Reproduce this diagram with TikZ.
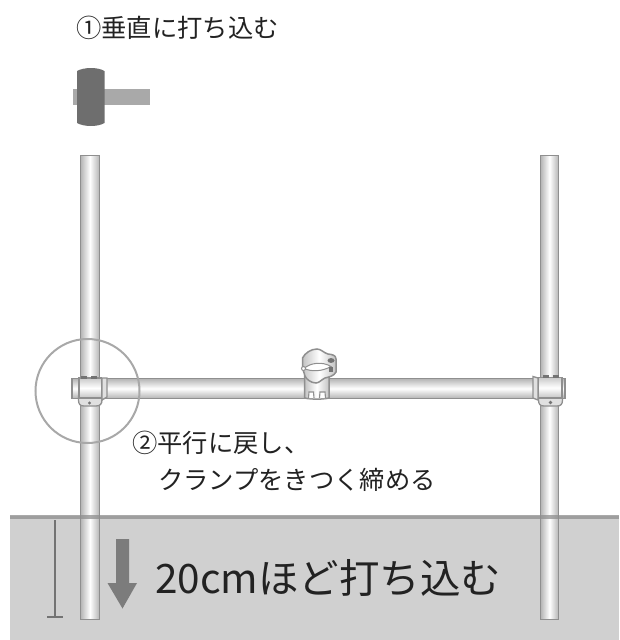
\documentclass[tikz,border=0pt]{standalone}
\usepackage{fontspec}
\setmainfont{Noto Sans CJK JP}
\usetikzlibrary{calc}
\definecolor{soil}{HTML}{D0D0D0}
\definecolor{soilline}{HTML}{8E8E8E}
\definecolor{pipeedge}{HTML}{8F8F8F}
\definecolor{pipedark}{HTML}{B4B4B4}
\definecolor{hammerhead}{HTML}{6E6E6E}
\definecolor{hammerhandle}{HTML}{A9A9A9}
\definecolor{arrowgrey}{HTML}{7C7C7C}
\definecolor{ringgrey}{HTML}{A8A8A8}
\definecolor{txt}{HTML}{222222}
\tikzset{
  vpipe/.style={draw=pipeedge,line width=1.7pt,left color=pipedark,right color=pipedark,middle color=white},
  hpipe/.style={draw=pipeedge,line width=1.7pt,top color=pipedark,bottom color=pipedark,middle color=white},
  clampbody/.style={draw=pipeedge,line width=1.5pt,left color=pipedark!80,right color=pipedark!80,middle color=white},
  sleeve/.style={draw=pipeedge,line width=1.5pt,top color=pipedark!70,bottom color=pipedark!80,middle color=white},
  clampsoft/.style={draw=pipeedge,line width=1.3pt,fill=black!12},
  bolt/.style={draw=none,fill=black!55},
  label/.style={inner sep=0pt,anchor=west,text=txt,font=\fontsize{25.3}{30}\selectfont},
}
\begin{document}
\begin{tikzpicture}[x=1pt,y=-1pt]
\useasboundingbox (0,0) rectangle (619,640);
% ground
\fill[soil] (10,516) rectangle (619,640);
% posts, upper parts stand in front of the ground edge
\path[vpipe] (80.5,155.5) rectangle (99.5,619.5);
\path[vpipe] (540.5,155.5) rectangle (558.5,619.5);
\fill[soilline,opacity=.75] (10,515) rectangle (619,519);
% cross pipe
\path[hpipe] (72,378.5) rectangle (565,398.5);
% left clamp
\path[clampsoft] (78.5,396) -- (78.5,400) .. controls (78.5,404) and (80,406) .. (84,406)
  -- (96,406) .. controls (100,406) and (102,404) .. (102,400) -- (102,396) -- cycle;
\path[clampsoft] (102,378) -- (107,378) -- (107,397) -- (102,400) -- cycle;
\path[sleeve] (79,378) -- (101.5,378) -- (101.5,398) -- (79,398) -- cycle;
\fill[bolt] (81,375.5) rectangle (87,379);
\fill[bolt] (91,375.5) rectangle (97,379);
\fill[bolt] (89.5,403) circle (1.7);
% right clamp
\path[clampsoft] (538.5,396) -- (538.5,400) .. controls (538.5,404) and (540,406) .. (544,406)
  -- (557,406) .. controls (561,406) and (562.5,404) .. (562.5,400) -- (562.5,396) -- cycle;
\path[clampsoft] (538,378) -- (533,376.5) -- (533,398) -- (538,400) -- cycle;
\path[sleeve] (538.5,377.5) -- (562,377.5) -- (562,398) -- (538.5,398) -- cycle;
\fill[bolt] (543,374.5) rectangle (549,378);
\fill[bolt] (553,374.5) rectangle (559,378);
\fill[bolt] (550.5,402.5) circle (1.8);
% centre swivel clamp
\path[clampbody] (304.5,376) -- (329,376) -- (329,398) .. controls (322,399.5) and (312,399.5) .. (304.5,398) -- cycle;
\path[draw=pipeedge,line width=1.1pt,fill=white] (308.5,398) -- (309,392) -- (313.5,392) -- (314,398);
\path[draw=pipeedge,line width=1.1pt,fill=white] (319.5,398) -- (320,392) -- (325,392) -- (325.5,398);
\path[clampbody] (302.5,358) .. controls (305,353) and (311,349) .. (317,349)
  .. controls (321,349) and (324,353) .. (328,354)
  .. controls (332,354.5) and (336,355) .. (336,359)
  -- (336,372) .. controls (334,376) and (329,377) .. (325,378)
  .. controls (321,380) and (319,383) .. (316,383)
  .. controls (311,383) and (306,379) .. (305,376)
  -- (302.5,368) -- cycle;
\path[draw=pipeedge,line width=1pt,fill=white] (304,368.5) .. controls (310,363) and (322,361) .. (331,366.5)
  .. controls (322,371.5) and (312,372) .. (304,368.5) -- cycle;
\fill[bolt] (331,360.5) ellipse (3.5 and 2.4);
\fill[bolt] (329,366.5) rectangle (333,372);
\path[draw=pipeedge,line width=1pt,fill=white] (303.5,368.5) circle (2);
% inspection ring around the left clamp
\node[draw=ringgrey,line width=2pt,circle,minimum size=104pt,inner sep=0pt] (ring) at (87.5,391) {};
% hammer
\fill[hammerhandle] (73,89) rectangle (150,105);
\fill[hammerhead] (77,71) .. controls (84,67) and (98,67) .. (104.5,71)
  -- (104.5,123) .. controls (98,127) and (84,127) .. (77,123) -- cycle;
% depth mark
\coordinate (depthtop) at (55,520);
\coordinate (depthfoot) at (55,617);
\draw[draw=black!55,line width=1.1pt] (depthtop) -- (depthfoot);
\draw[draw=black!55,line width=1.1pt] ($(depthfoot)+(-8,0)$) -- ($(depthfoot)+(8,0)$);
% driving direction arrow
\fill[arrowgrey] (116,539) -- (129,539) -- (129,583) -- (137,583) -- (122.5,608.5) -- (107.5,583) -- (116,583) -- cycle;
% captions
\node[label] (stepone) at (76,28) {①垂直に打ち込む};
\node[label] (steptwo) at (132,443) {②平行に戻し、};
\node[label] (steptwob) at (158,480) {クランプをきつく締める};
\node[inner sep=0pt,anchor=west,text=txt,font=\fontsize{40.5}{46}\selectfont] (depthtext) at (155,578) {20cmほど打ち込む};
\end{tikzpicture}
\end{document}
